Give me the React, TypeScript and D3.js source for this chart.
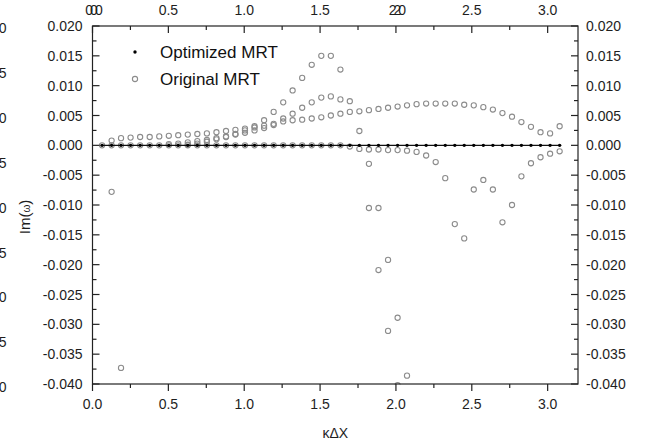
import React from "react";
import * as d3 from "d3";

// grid of κΔx values (k = 1..49)
const kdx = [0.063, 0.126, 0.188, 0.251, 0.314, 0.377, 0.44, 0.503, 0.565, 0.628, 0.691, 0.754, 0.817, 0.88, 0.942, 1.005, 1.068, 1.131, 1.194, 1.257, 1.319, 1.382, 1.445, 1.508, 1.571, 1.634, 1.696, 1.759, 1.822, 1.885, 1.948, 2.011, 2.073, 2.136, 2.199, 2.262, 2.325, 2.388, 2.45, 2.513, 2.576, 2.639, 2.702, 2.765, 2.827, 2.89, 2.953, 3.016, 3.079];

const optimizedMRT = [0, 0, 0, 0, 0, 0, 0, 0, 0, 0, 0, 0, 0, 0, 0, 0, 0, 0, 0, 0, 0, 0, 0, 0, 0, 0, 0, 0, 0, 0, 0, 0, 0, 0, 0, 0, 0, 0, 0, 0, 0, 0, 0, 0, 0, 0, 0, 0, 0];

// Original MRT branches: [k (1-based grid index), Im(ω)]
const origSmooth: [number, number][] = [
  [2, 0.0008], [3, 0.0012], [4, 0.0013], [5, 0.0014], [6, 0.0014], [7, 0.0015], [8, 0.0016], [9, 0.0017],
  [10, 0.0018], [11, 0.0019], [12, 0.002], [13, 0.0022], [14, 0.0024], [15, 0.0026], [16, 0.0028], [17, 0.003],
  [18, 0.0033], [19, 0.0036], [20, 0.004], [21, 0.0042], [22, 0.0043], [23, 0.0045], [24, 0.0047], [25, 0.005],
  [26, 0.0053], [27, 0.0056], [28, 0.0057], [29, 0.0059], [30, 0.0061], [31, 0.0063], [32, 0.0065], [33, 0.0067],
  [34, 0.0069], [35, 0.007], [36, 0.007], [37, 0.007], [38, 0.007], [39, 0.0068], [40, 0.0067], [41, 0.0064],
  [42, 0.006], [43, 0.0054], [44, 0.0048], [45, 0.0039], [46, 0.0031], [47, 0.0022], [48, 0.002], [49, 0.0032],
];
const origPeak: [number, number][] = [
  [10, 0.0001], [11, 0.0003], [12, 0.0006], [13, 0.001], [14, 0.0014], [15, 0.0019], [16, 0.0025], [17, 0.0032],
  [18, 0.0042], [19, 0.0056], [20, 0.0072], [21, 0.0092], [22, 0.0113], [23, 0.0135], [24, 0.015], [25, 0.015], [26, 0.0127],
];
const origMid: [number, number][] = [
  [8, 0.0002], [9, 0.0003], [10, 0.0005], [11, 0.0007], [12, 0.0009], [13, 0.0012], [14, 0.0015], [15, 0.0018],
  [16, 0.0021], [17, 0.0025], [18, 0.0029], [19, 0.0034], [20, 0.0045], [21, 0.0053], [22, 0.0063], [23, 0.0072],
  [24, 0.008], [25, 0.0082], [26, 0.0077], [27, 0.0074],
];
const origZero: [number, number][] = [
  [1, 0], [2, 0], [3, 0], [4, 0], [5, 0], [6, 0], [7, 0], [8, 0], [9, 0], [10, 0], [11, 0], [12, 0], [13, 0],
  [14, 0], [15, 0], [16, 0], [17, 0], [18, 0], [19, 0], [20, 0], [21, 0], [22, 0], [23, 0], [24, 0], [25, 0],
  [26, 0], [27, -0.0002], [28, -0.0006], [29, -0.0007], [30, -0.0007], [31, -0.0008], [32, -0.0008], [33, -0.0009],
  [34, -0.0011], [35, -0.0017], [36, -0.0028], [37, -0.0055], [38, -0.0132], [39, -0.0156],
];
const origDropA: [number, number][] = [
  [28, 0.0024], [29, -0.0031], [30, -0.0105], [31, -0.0192], [32, -0.0289], [33, -0.0386],
];
const origDropB: [number, number][] = [
  [29, -0.0105], [30, -0.0209], [31, -0.0311], [32, -0.0402],
];
const origTail: [number, number][] = [
  [40, -0.0074], [41, -0.0058], [42, -0.0074], [43, -0.0129], [44, -0.01], [45, -0.0052], [46, -0.003],
  [47, -0.002], [48, -0.0014], [49, -0.001],
];
const origLow: [number, number][] = [[2, -0.0078], [3, -0.0373]];

const originalBranches = [origSmooth, origPeak, origMid, origZero, origDropA, origDropB, origTail, origLow];

const xTicks = [0, 0.5, 1.0, 1.5, 2.0, 2.5, 3.0];
const xTickLabels = ["0.0", "0.5", "1.0", "1.5", "2.0", "2.5", "3.0"];
const topTickLabels = ["000", "0.5", "1.0", "1.5", "220", "2.5", "3.0"];
const xMinorTicks = [0.25, 0.75, 1.25, 1.75, 2.25, 2.75];
const yTicks = [0.02, 0.015, 0.01, 0.005, 0, -0.005, -0.01, -0.015, -0.02, -0.025, -0.03, -0.035, -0.04];
const yTickLabels = ["0.020", "0.015", "0.010", "0.005", "0.000", "-0.005", "-0.010", "-0.015", "-0.020", "-0.025", "-0.030", "-0.035", "-0.040"];
const yMinorTicks = [0.0175, 0.0125, 0.0075, 0.0025, -0.0025, -0.0075, -0.0125, -0.0175, -0.0225, -0.0275, -0.0325, -0.0375];
const leftCutLabels = ["0", "5", "0", "5", "0", "5", "0", "5", "0"];
const legendLabels = ["Optimized MRT", "Original MRT"];

const W = 645;
const H = 447;
const FONT = "'Liberation Sans', Arial, Helvetica, sans-serif";

export default function App() {
  const left = 92.5, right = 578, top = 26, bottom = 384;
  const x = d3.scaleLinear().domain([0, 3.2]).range([left, right]);
  const y = d3.scaleLinear().domain([-0.04, 0.02]).range([bottom, top]);

  const optLine = d3.line<number>().x((_, i) => x(kdx[i])).y((d) => y(d))(optimizedMRT) || "";
  const circleStroke = "#8c8c8c";
  const textColor = "#1e1e1e";
  const axisColor = "#222";
  const majorLen = 7, minorLen = 4;

  return (
    <svg width={W} height={H} style={{ position: "absolute", left: 0, top: 0, background: "#fff" }} fontFamily={FONT}>
      <defs>
        <clipPath id="plotClip">
          <rect x={left} y={top} width={right - left} height={bottom - top + 0.5} />
        </clipPath>
      </defs>
      <rect x={0} y={0} width={W} height={H} fill="#fff" />

      {/* cut-off labels of neighbouring chart */}
      {leftCutLabels.map((t, i) => (
        <text key={"cut" + i} x={6.5} y={28 + i * 44.9 + 5} textAnchor="end" fontSize={14} fill={textColor}>{t}</text>
      ))}

      {/* data */}
      <g clipPath="url(#plotClip)">
        {originalBranches.map((br, bi) =>
          br.map(([k, v], i) => (
            <circle key={`o${bi}-${i}`} cx={x(kdx[k - 1])} cy={y(v)} r={2.6} fill="none" stroke={circleStroke} strokeWidth={1.1} />
          ))
        )}
        <path d={optLine} fill="none" stroke="#111" strokeWidth={1.3} />
        {optimizedMRT.map((v, i) => (
          <circle key={"d" + i} cx={x(kdx[i])} cy={y(v)} r={1.7} fill="#000" />
        ))}
      </g>

      {/* frame */}
      <rect x={left} y={top} width={right - left} height={bottom - top} fill="none" stroke={axisColor} strokeWidth={1.2} />

      {/* bottom axis (ticks outward) */}
      {xTicks.map((t, i) => (
        <g key={"bx" + i}>
          <line x1={x(t)} x2={x(t)} y1={bottom} y2={bottom + majorLen} stroke={axisColor} strokeWidth={1.2} />
          <text x={x(t)} y={bottom + 25} textAnchor="middle" fontSize={14} fill={textColor}>{xTickLabels[i]}</text>
        </g>
      ))}
      {xMinorTicks.map((t, i) => (
        <line key={"bxm" + i} x1={x(t)} x2={x(t)} y1={bottom} y2={bottom + minorLen} stroke={axisColor} strokeWidth={1.2} />
      ))}

      {/* top axis (ticks inward) */}
      {xTicks.map((t, i) => (
        <g key={"tx" + i}>
          <line x1={x(t)} x2={x(t)} y1={top} y2={top + majorLen} stroke={axisColor} strokeWidth={1.2} />
          <text x={x(t)} y={top - 11} textAnchor="middle" fontSize={14} fill={textColor}
            letterSpacing={topTickLabels[i] !== xTickLabels[i] ? -3 : 0}>{topTickLabels[i]}</text>
        </g>
      ))}
      {xMinorTicks.map((t, i) => (
        <line key={"txm" + i} x1={x(t)} x2={x(t)} y1={top} y2={top + minorLen} stroke={axisColor} strokeWidth={1.2} />
      ))}

      {/* left and right axes (ticks inward) */}
      {yTicks.map((t, i) => (
        <g key={"y" + i}>
          <line x1={left} x2={left + majorLen} y1={y(t)} y2={y(t)} stroke={axisColor} strokeWidth={1.2} />
          <line x1={right - majorLen} x2={right} y1={y(t)} y2={y(t)} stroke={axisColor} strokeWidth={1.2} />
          <text x={left - 10} y={y(t) + 5} textAnchor="end" fontSize={14} fill={textColor}>{yTickLabels[i]}</text>
          <text x={right + 8} y={y(t) + 5} textAnchor="start" fontSize={14} fill={textColor}>{yTickLabels[i]}</text>
        </g>
      ))}
      {yMinorTicks.map((t, i) => (
        <g key={"ym" + i}>
          <line x1={left} x2={left + minorLen} y1={y(t)} y2={y(t)} stroke={axisColor} strokeWidth={1.2} />
          <line x1={right - minorLen} x2={right} y1={y(t)} y2={y(t)} stroke={axisColor} strokeWidth={1.2} />
        </g>
      ))}

      {/* axis titles */}
      <text x={(left + right) / 2} y={438} textAnchor="middle" fontSize={14} fill={textColor}>κΔX</text>
      <text transform={`translate(30, ${(top + bottom) / 2 + 12}) rotate(-90)`} textAnchor="middle" fontSize={15} fill={textColor}>
        Im(<tspan fontSize={10}>ω</tspan>)
      </text>

      {/* legend */}
      <circle cx={135} cy={52} r={1.7} fill="#000" />
      <text x={160} y={58} fontSize={17} fill="#111">{legendLabels[0]}</text>
      <circle cx={135} cy={79} r={2.6} fill="none" stroke={circleStroke} strokeWidth={1.1} />
      <text x={160} y={85} fontSize={17} fill="#111">{legendLabels[1]}</text>
    </svg>
  );
}
